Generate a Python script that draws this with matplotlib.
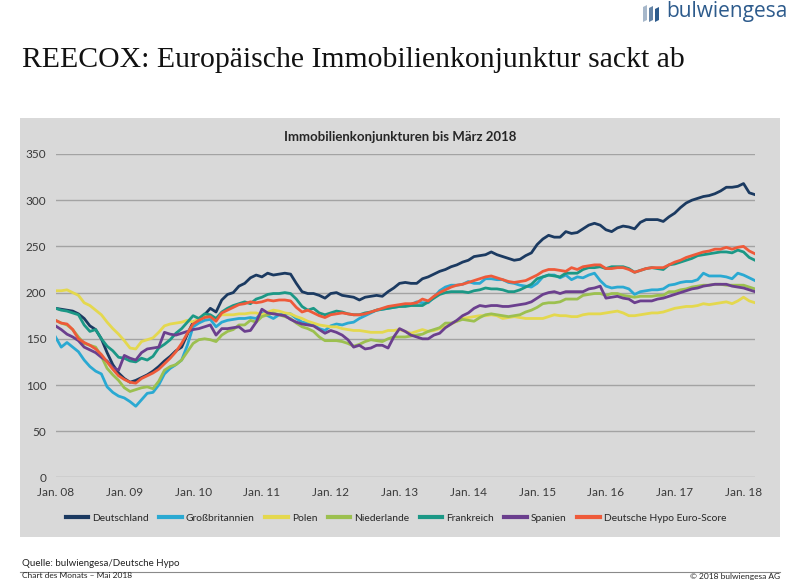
import numpy as np
import matplotlib
matplotlib.use("Agg")
import matplotlib.pyplot as plt
from matplotlib.patches import Rectangle, Polygon
from matplotlib.lines import Line2D

plt.rcParams['font.family'] = ['Lato', 'DejaVu Sans']

# ---- data (monthly, Jan 2008 .. Mar 2018) ----
tick_labels = ["Jan. 08", "Jan. 09", "Jan. 10", "Jan. 11", "Jan. 12", "Jan. 13",
               "Jan. 14", "Jan. 15", "Jan. 16", "Jan. 17", "Jan. 18"]
y_ticks = [0, 50, 100, 150, 200, 250, 300, 350]

deutschland = [183, 182, 181, 180, 177, 172, 164, 160, 150, 135, 122, 113,
               107, 103, 105, 108, 111, 115, 120, 126, 131, 137, 141, 155,
               168, 170, 176, 183, 179, 192, 198, 200, 207, 210, 216, 219,
               217, 221, 219, 220, 221, 220, 210, 201, 199, 199, 197, 194,
               199, 200, 197, 196, 195, 192, 195, 196, 197, 196, 201, 205,
               210, 211, 210, 210, 215, 217, 220, 223, 225, 228, 230, 233,
               235, 239, 240, 241, 244, 241, 239, 237, 235, 236, 240, 243,
               252, 258, 262, 260, 260, 266, 264, 265, 269, 273, 275, 273,
               268, 266, 270, 272, 271, 269, 276, 279, 279, 279, 277, 282,
               286, 292, 297, 300, 302, 304, 305, 307, 310, 314, 314, 315,
               318, 308, 306]

grossbritannien = [152, 141, 146, 141, 136, 127, 120, 115, 112, 98, 92, 88,
                   86, 82, 77, 84, 91, 92, 100, 112, 118, 122, 127, 143,
                   163, 167, 170, 171, 163, 168, 170, 171, 172, 172, 173, 172,
                   178, 175, 172, 176, 177, 177, 172, 168, 167, 165, 161, 159,
                   164, 166, 165, 167, 168, 172, 175, 178, 181, 182, 183, 184,
                   185, 186, 187, 190, 189, 189, 195, 202, 206, 208, 208, 209,
                   212, 210, 210, 215, 215, 214, 214, 211, 210, 208, 207, 206,
                   210, 217, 219, 219, 216, 219, 214, 217, 216, 219, 221, 213,
                   207, 205, 206, 206, 204, 198, 201, 202, 203, 203, 204, 208,
                   209, 211, 212, 212, 214, 221, 218, 218, 218, 217, 215, 221,
                   219, 216, 213]

polen = [202, 202, 203, 200, 197, 189, 186, 181, 176, 168, 161, 155,
         148, 140, 139, 147, 149, 151, 157, 164, 166, 167, 168, 170,
         168, 172, 176, 174, 172, 176, 176, 176, 177, 177, 178, 178,
         176, 179, 181, 180, 178, 177, 174, 172, 169, 167, 165, 164,
         163, 163, 161, 160, 159, 159, 158, 157, 157, 157, 159, 159,
         160, 158, 156, 158, 160, 158, 159, 161, 163, 166, 169, 172,
         173, 174, 175, 175, 176, 175, 172, 173, 174, 173, 172, 172,
         172, 172, 174, 176, 175, 175, 174, 174, 176, 177, 177, 177,
         178, 179, 180, 178, 175, 175, 176, 177, 178, 178, 179, 181,
         183, 184, 185, 185, 186, 188, 187, 188, 189, 190, 188, 191,
         195, 191, 189]

niederlande = [170, 167, 165, 160, 152, 145, 143, 141, 131, 118, 111, 105,
               97, 93, 95, 97, 98, 96, 104, 116, 120, 122, 127, 136,
               145, 149, 150, 149, 147, 154, 158, 160, 165, 165, 170, 168,
               174, 176, 178, 176, 174, 172, 167, 163, 161, 158, 152, 148,
               148, 148, 147, 145, 142, 144, 147, 149, 148, 147, 150, 152,
               152, 152, 153, 154, 155, 158, 160, 162, 167, 167, 169, 171,
               170, 169, 173, 176, 177, 176, 175, 174, 175, 176, 179, 181,
               184, 188, 189, 189, 190, 193, 193, 193, 197, 198, 199, 199,
               197, 199, 199, 197, 196, 195, 196, 196, 196, 197, 197, 201,
               201, 203, 204, 206, 207, 208, 208, 209, 209, 208, 208, 208,
               208, 206, 204]

frankreich = [183, 181, 180, 178, 176, 165, 158, 160, 150, 142, 137, 130,
              129, 126, 125, 129, 127, 131, 140, 144, 149, 156, 161, 168,
              175, 172, 177, 176, 172, 179, 183, 186, 188, 190, 188, 193,
              195, 198, 199, 199, 200, 199, 193, 185, 181, 183, 178, 176,
              178, 180, 179, 177, 176, 176, 178, 179, 181, 182, 183, 184,
              185, 185, 186, 186, 186, 190, 194, 198, 200, 201, 201, 201,
              200, 202, 203, 205, 204, 204, 203, 201, 201, 203, 206, 209,
              215, 217, 219, 218, 217, 221, 221, 221, 225, 227, 227, 228,
              226, 228, 228, 228, 226, 222, 224, 226, 227, 226, 225, 230,
              231, 233, 235, 237, 240, 241, 242, 243, 244, 244, 243, 246,
              244, 238, 235]

spanien = [164, 160, 155, 152, 148, 141, 138, 135, 130, 126, 119, 116,
           132, 129, 127, 135, 139, 140, 141, 157, 155, 154, 156, 158,
           160, 161, 163, 165, 154, 161, 161, 162, 163, 158, 159, 168,
           182, 178, 177, 176, 175, 171, 168, 166, 165, 164, 160, 156,
           159, 157, 154, 149, 141, 143, 139, 140, 143, 143, 140, 152,
           161, 158, 154, 152, 150, 150, 154, 156, 162, 166, 170, 175,
           178, 183, 186, 185, 186, 186, 185, 185, 186, 187, 188, 190,
           194, 198, 200, 201, 199, 201, 201, 201, 201, 204, 205, 207,
           194, 195, 196, 194, 193, 189, 191, 191, 191, 193, 194, 196,
           198, 200, 202, 204, 205, 207, 208, 209, 209, 209, 207, 206,
           205, 203, 201]

euro_score = [170, 167, 166, 160, 150, 146, 143, 139, 133, 125, 117, 110,
              106, 103, 102, 107, 110, 113, 117, 123, 129, 136, 145, 156,
              166, 170, 173, 174, 169, 178, 181, 184, 187, 188, 190, 189,
              190, 192, 191, 192, 192, 191, 184, 179, 181, 178, 175, 173,
              176, 177, 178, 177, 176, 176, 177, 179, 181, 183, 185, 186,
              187, 188, 188, 189, 193, 191, 196, 200, 203, 206, 208, 209,
              211, 213, 215, 217, 218, 216, 214, 212, 211, 212, 213, 216,
              219, 223, 225, 225, 224, 223, 227, 225, 228, 229, 230, 230,
              226, 226, 227, 227, 225, 222, 224, 226, 227, 227, 227, 230,
              233, 235, 238, 240, 242, 244, 245, 247, 247, 249, 247, 249,
              250, 245, 242]

series = [
    ("Deutschland", deutschland, "#1b3a61"),
    ("Großbritannien", grossbritannien, "#2aa9d2"),
    ("Polen", polen, "#e4d84e"),
    ("Niederlande", niederlande, "#9cc04f"),
    ("Frankreich", frankreich, "#1b9886"),
    ("Spanien", spanien, "#6b3f8e"),
    ("Deutsche Hypo Euro-Score", euro_score, "#ee5a3a"),
]

W, H = 800, 580
fig = plt.figure(figsize=(W / 100, H / 100), dpi=100)
fig.patch.set_facecolor("white")

def fx(px):
    return px / W

def fy(py):
    return (H - py) / H

# background layer (grey panel, logo, rule line)
bg = fig.add_axes([0, 0, 1, 1], zorder=0)
bg.set_xlim(0, W)
bg.set_ylim(H, 0)
bg.axis("off")
bg.add_patch(Rectangle((20, 118), 760, 419, facecolor="#d9d9d9", edgecolor="none"))
logo_col = "#2d5b8c"
for i, c in enumerate(["#a7b8cb", "#6584a6", logo_col]):
    x0 = 643 + i * 6
    bg.add_patch(Polygon([(x0, 7 + i), (x0 + 4, 5 + i), (x0 + 4, 20), (x0, 22)],
                         closed=True, facecolor=c, edgecolor="none"))
bg.plot([20, 780], [572, 572], color="#8a8a8a", lw=0.8)

ax = fig.add_axes([fx(55.5), fy(477.4), fx(755) - fx(55.5), fy(154) - fy(477.4)], zorder=2)
ax.set_facecolor("none")
for name, vals, col in series:
    x = np.arange(len(vals))
    ax.plot(x, vals, color=col, lw=2.0, label=name, solid_joinstyle="round", zorder=3)

ax.set_xlim(0, 122)
ax.set_ylim(0, 350)
ax.set_yticks(y_ticks)
ax.set_xticks(np.arange(len(tick_labels)) * 12)
ax.set_xticklabels(tick_labels)
ax.grid(axis="y", color="#a3a3a3", lw=1.0, zorder=1)
ax.set_axisbelow(True)
for s in ax.spines.values():
    s.set_visible(False)
ax.tick_params(axis="both", length=0, labelsize=8.5, colors="#3a3a3a")
ax.tick_params(axis="y", pad=6.5)
ax.tick_params(axis="x", pad=7)

# inner chart title
fig.text(fx(400), fy(137), "Immobilienkonjunkturen bis März 2018", ha="center", va="center",
         fontsize=9.5, fontweight="bold", color="#262626", zorder=5)

# legend
handles = [Line2D([0], [0], color=c, lw=3) for _, _, c in series]
labels = [n for n, _, _ in series]
leg = fig.legend(handles, labels, loc="center", bbox_to_anchor=(fx(396), fy(518)), ncol=7,
                 frameon=False, fontsize=7.4, handlelength=2.2, handletextpad=0.4,
                 columnspacing=1.0, labelcolor="#262626")
leg.set_zorder(5)

# main title
fig.text(fx(22), fy(60), "REECOX: Europäische Immobilienkonjunktur sackt ab", ha="left",
         va="center", fontsize=21.4, family=["Liberation Serif", "DejaVu Serif"],
         color="#111111", zorder=5)

fig.text(fx(666), fy(11), "bulwiengesa", ha="left", va="center", fontsize=15,
         family=["Open Sans", "DejaVu Sans"], color=logo_col, zorder=5)

# footer
fig.text(fx(22), fy(563), "Quelle: bulwiengesa/Deutsche Hypo", ha="left", va="center",
         fontsize=7, color="#222222", zorder=5)
fig.text(fx(22), fy(579.5), "Chart des Monats – Mai 2018", ha="left", va="bottom",
         fontsize=6, color="#222222", zorder=5)
fig.text(fx(780), fy(579.5), "© 2018 bulwiengesa AG", ha="right", va="bottom",
         fontsize=6, color="#222222", zorder=5)

fig.savefig("out.png", dpi=100, facecolor="white")
